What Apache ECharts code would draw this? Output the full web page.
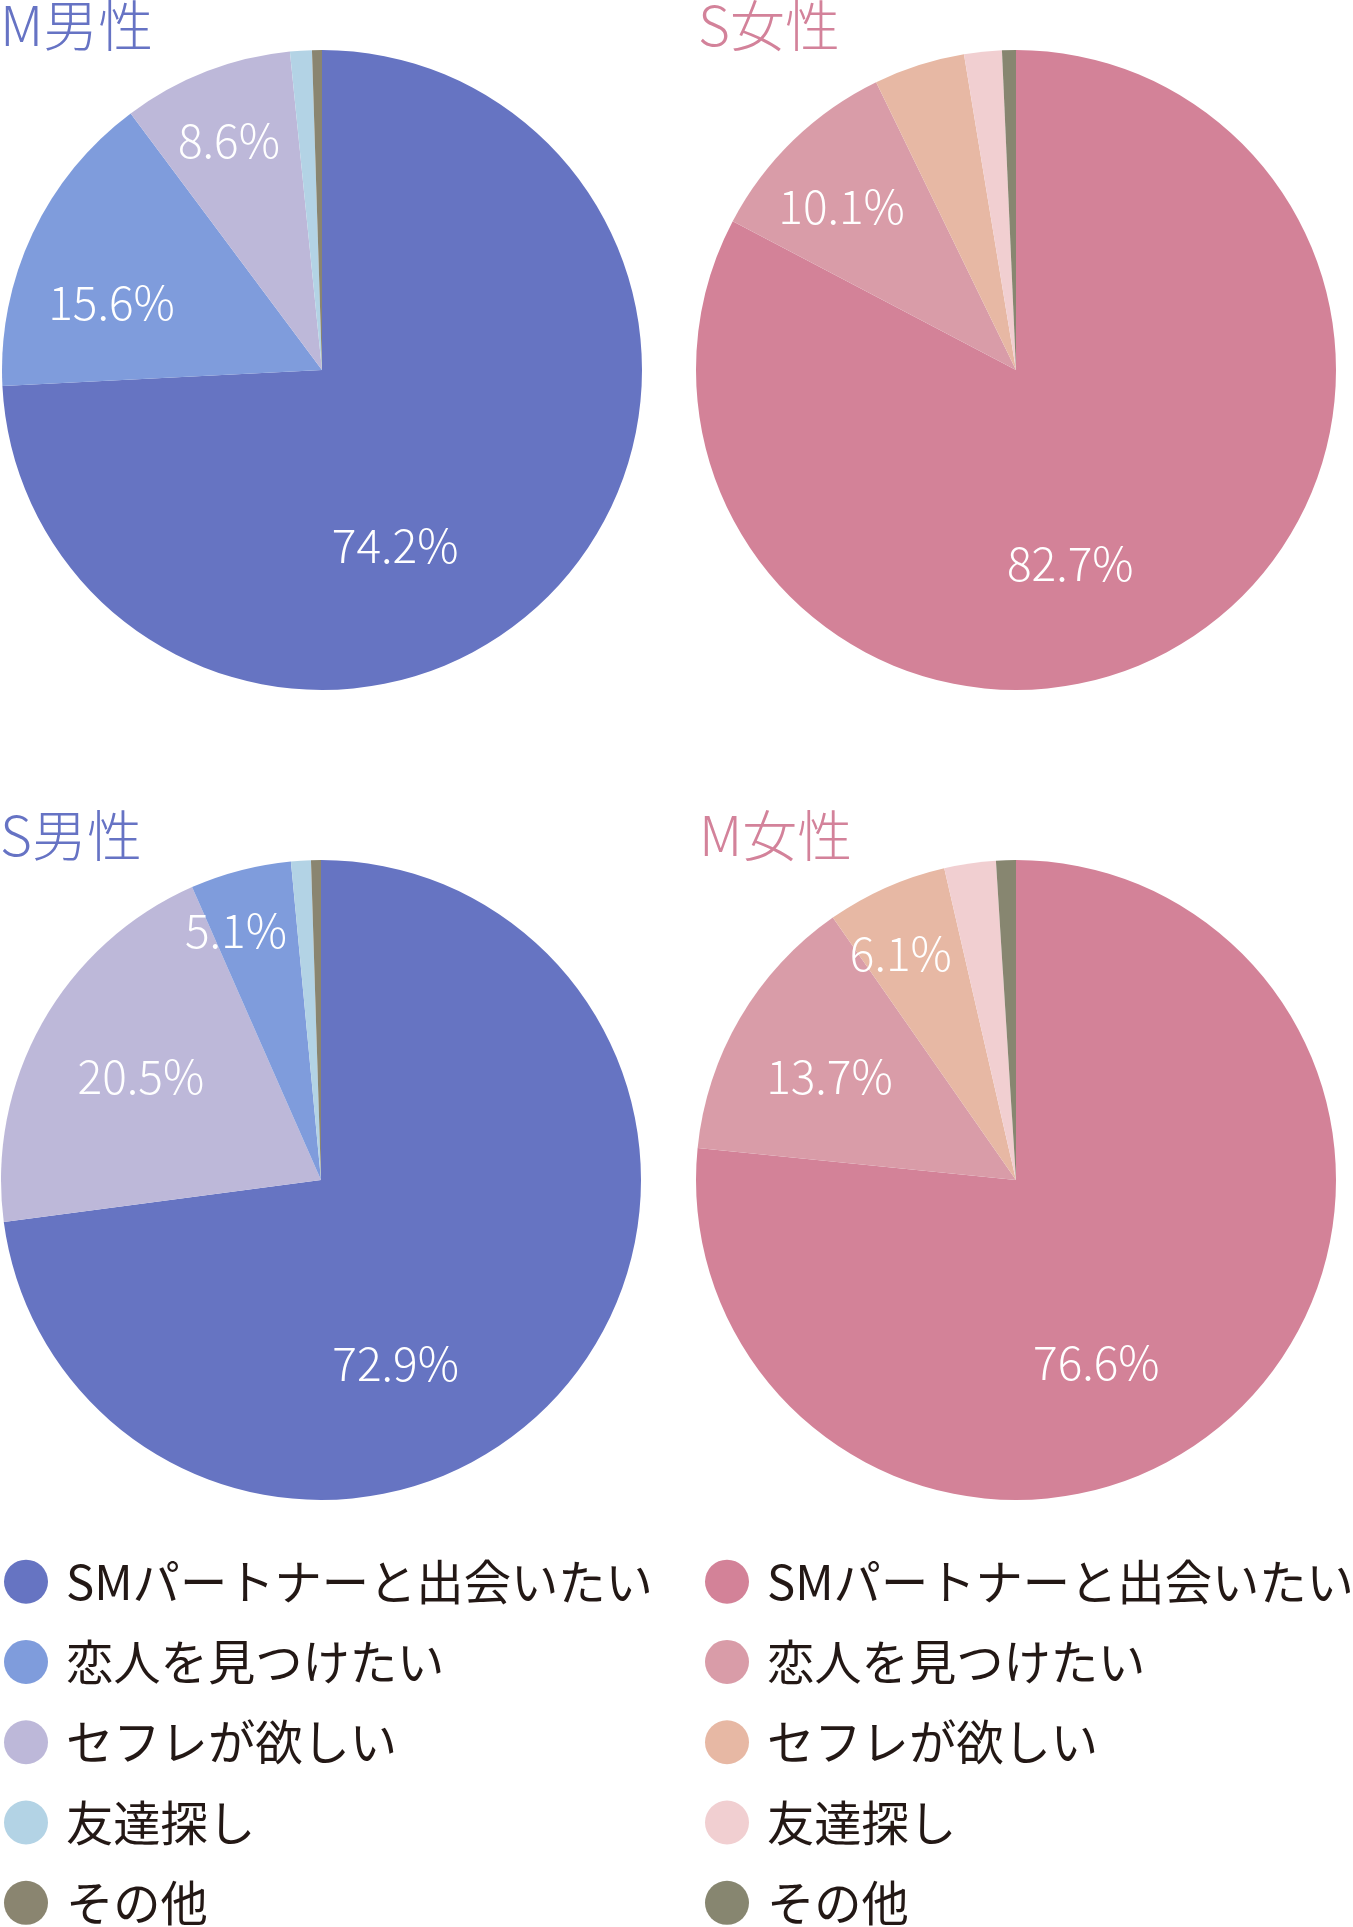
<!DOCTYPE html>
<html>
<head>
<meta charset="utf-8">
<script src="https://cdn.jsdelivr.net/npm/echarts@6/dist/echarts.min.js"></script>
<style>
html,body{margin:0;padding:0;background:#fff;}
#c{width:1353px;height:1927px;}
</style>
</head>
<body>
<div id="c"></div>
<script>
// ---- data ----
const categories = ['SMパートナーと出会いたい', '恋人を見つけたい', 'セフレが欲しい', '友達探し', 'その他'];
const titles = ['M男性', 'S女性', 'S男性', 'M女性'];
const mMale   = [74.2, 15.6, 8.6, 1.1, 0.5];
const sFemale = [82.7, 10.1, 4.6, 1.9, 0.7];
const sMale   = [72.9, 5.1, 20.5, 1.0, 0.5];
const mFemale = [76.6, 13.7, 6.1, 2.6, 1.0];

// ---- styles ----
const blueColors = ['#6674C2', '#7F9CDC', '#BDB8D9', '#B3D3E5', '#8A8570'];
const pinkColors = ['#D38298', '#D99CA8', '#E7B8A4', '#F1CFD1', '#878670'];
const blueTitle = '#6673C4';
const pinkTitle = '#D3829A';
const FONT = '"Noto Sans CJK JP", "Noto Sans", sans-serif';
const R = 320;
// label offsets (px) from the default inside position, per chart & category index
const labelOffsets = [
  {0: [-45, 63], 1: [-63, 2], 2: [-34, -78]},
  {0: [-30, 54], 1: [-61, -46]},
  {0: [-48, 76], 2: [-38, -24], 1: [-44, -92]},
  {0: [-29, 62], 1: [-46, -21], 2: [-49, -78]}
];
const centers = [[322, 370], [1016, 370], [321, 1180], [1016, 1180]];

const ZW = '\u200B';
const pinkNames = categories.map(c => c + ZW);

function buildSeries(idx, values, colors, names) {
  const items = values.map((v, i) => ({
    name: names[i],
    value: v,
    itemStyle: {color: colors[i]},
    label: {
      show: v >= 5,
      offset: labelOffsets[idx][i] || [0, 0]
    }
  }));
  items.sort((a, b) => b.value - a.value);
  return {
    type: 'pie',
    center: centers[idx],
    radius: [0, R],
    startAngle: 90,
    clockwise: true,
    avoidLabelOverlap: false,
    silent: true,
    animation: false,
    itemStyle: {borderWidth: 0},
    label: {
      position: 'inside',
      formatter: p => p.value.toFixed(1) + '%',
      color: '#ffffff',
      fontSize: 46,
      fontWeight: 300,
      fontFamily: FONT
    },
    labelLine: {show: false},
    emphasis: {disabled: true},
    data: items
  };
}

const titleDefs = [
  {text: titles[0], left: 0, top: -2, color: blueTitle},
  {text: titles[1], left: 698, top: -2, color: pinkTitle},
  {text: titles[2], left: 0, top: 808, color: blueTitle},
  {text: titles[3], left: 699, top: 808, color: pinkTitle}
];

const legendText = {fontSize: 47.3, color: '#231815', fontFamily: FONT, padding: [0, 0, 0, 13]};

const legendCommon = {
  orient: 'vertical', top: 1558, height: 420, itemWidth: 44, itemHeight: 44, itemGap: 33,
  icon: 'circle', selectedMode: false, padding: 0, textStyle: legendText
};

const option = {
  backgroundColor: '#ffffff',
  animation: false,
  title: titleDefs.map(t => ({
    text: t.text, left: t.left, top: t.top, padding: 0,
    textStyle: {color: t.color, fontSize: 55, fontWeight: 300, fontFamily: FONT}
  })),
  legend: [
    Object.assign({}, legendCommon, {left: 4, data: categories}),
    Object.assign({}, legendCommon, {left: 705, data: pinkNames, formatter: n => n.replace(ZW, '')})
  ],
  series: [
    buildSeries(0, mMale, blueColors, categories),
    buildSeries(1, sFemale, pinkColors, pinkNames),
    buildSeries(2, sMale, blueColors, categories),
    buildSeries(3, mFemale, pinkColors, pinkNames)
  ]
};

const chart = echarts.init(document.getElementById('c'), null, {renderer: 'canvas'});
chart.setOption(option);
</script>
</body>
</html>
